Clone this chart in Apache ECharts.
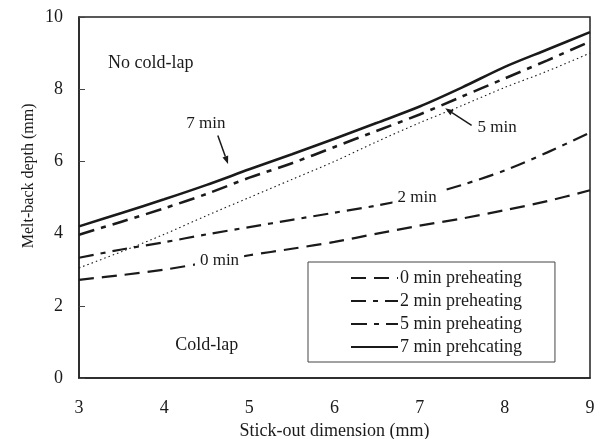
<!DOCTYPE html>
<html>
<head>
<meta charset="utf-8">
<script src="https://cdn.jsdelivr.net/npm/echarts@6/dist/echarts.min.js"></script>
<style>
  html, body { margin: 0; padding: 0; background: #fff; }
  #chart { width: 603px; height: 439px; }
</style>
</head>
<body>
<div id="chart"></div>
<script>
// Stick-out dimension (mm)
const stickOut = [3, 3.5, 4, 4.5, 5, 5.5, 6, 6.5, 7, 7.5, 8, 8.5, 9];

// Melt-back depth (mm) for each preheating time
const depth0min = [2.72, 2.85, 3.0, 3.2, 3.4, 3.58, 3.77, 4.0, 4.22, 4.42, 4.65, 4.9, 5.2];
const depth2min = [3.33, 3.56, 3.76, 3.98, 4.18, 4.38, 4.58, 4.78, 5.02, 5.35, 5.75, 6.25, 6.8];
const depth5min = [3.97, 4.33, 4.7, 5.1, 5.55, 5.95, 6.4, 6.85, 7.3, 7.8, 8.3, 8.8, 9.32];
const depthDotted = [3.05, 3.5, 3.98, 4.5, 5.0, 5.5, 6.0, 6.55, 7.07, 7.55, 8.05, 8.5, 9.0];
const depth7min = [4.2, 4.57, 4.95, 5.35, 5.78, 6.2, 6.63, 7.07, 7.52, 8.05, 8.62, 9.1, 9.58];

const legendNames = ['0 min preheating', '2 min preheating', '5 min preheating', '7 min prehcating'];
const yTitle = 'Melt-back depth (mm)';

// Annotation anchors in data coordinates [x, y]
const regionLabels = [
  { text: 'No cold-lap', at: [3.34, 8.72], align: 'left' },
  { text: 'Cold-lap', at: [4.5, 0.9], align: 'center' }
];
const curveLabels = [
  { text: '7 min', at: [4.49, 7.05], bg: false },
  { text: '5 min', at: [7.91, 6.94], bg: false },
  { text: '2 min', at: [6.97, 5.0], bg: true },
  { text: '0 min', at: [4.65, 3.26], bg: true }
];
const arrows = [
  { from: [4.63, 6.72], to: [4.75, 5.93] },
  { from: [7.61, 7.0], to: [7.30, 7.47] }
];

const FONT = 'Liberation Serif';
const INK = '#1a1a1a';

function pairs(ys) { return stickOut.map((x, i) => [x, ys[i]]); }

function lineSeries(name, ys, width, dash) {
  return {
    name: name,
    type: 'line',
    data: pairs(ys),
    smooth: 0.3,
    symbol: 'none',
    silent: true,
    z: 3,
    color: INK,
    itemStyle: { color: INK },
    lineStyle: { color: INK, width: width, type: dash, cap: 'butt' }
  };
}

const chart = echarts.init(document.getElementById('chart'), null, { renderer: 'canvas' });

chart.setOption({
  animation: false,
  backgroundColor: '#fff',
  textStyle: { fontFamily: FONT, color: INK },
  grid: {
    left: 79, right: 13, top: 17, bottom: 61,
    outerBoundsMode: 'none',
    containLabel: false,
    show: true, borderColor: '#222', borderWidth: 1.5
  },
  xAxis: {
    type: 'value', min: 3, max: 9, interval: 1,
    name: 'Stick-out dimension (mm)',
    nameLocation: 'middle', nameGap: 42,
    nameTextStyle: { fontFamily: FONT, fontSize: 18, color: INK },
    axisLine: { show: true, lineStyle: { color: '#222', width: 1.5 } },
    axisTick: { show: false },
    splitLine: { show: false },
    axisLabel: { fontFamily: FONT, fontSize: 18, color: INK, margin: 21 }
  },
  yAxis: {
    type: 'value', min: 0, max: 10, interval: 2,
    axisLine: { show: true, lineStyle: { color: '#222', width: 1.5 } },
    axisTick: { show: true, inside: true, length: 6, lineStyle: { color: '#444', width: 1 } },
    splitLine: { show: false },
    axisLabel: { fontFamily: FONT, fontSize: 18, color: INK, margin: 16 }
  },
  legend: {
    data: legendNames,
    orient: 'vertical',
    left: 308, top: 262,
    padding: [7, 33, 6, 42],
    itemGap: 5,
    itemWidth: 47,
    itemHeight: 18,
    borderColor: '#444',
    borderWidth: 1,
    backgroundColor: '#fff',
    selectedMode: false,
    itemStyle: { opacity: 0 },
    textStyle: { fontFamily: FONT, fontSize: 18, color: INK, padding: [0, 0, 0, -3] }
  },
  series: [
    lineSeries('0 min preheating', depth0min, 2.2, [15, 8]),
    lineSeries('2 min preheating', depth2min, 2.2, [15, 7, 5, 7]),
    lineSeries('5 min preheating', depth5min, 2.6, [16, 7, 5, 7]),
    lineSeries('dotted', depthDotted, 1.1, [1.5, 3]),
    lineSeries('7 min prehcating', depth7min, 2.6, 'solid')
  ]
});

// Place annotations from data coordinates
function px(p) { return chart.convertToPixel({ gridIndex: 0 }, p); }

const graphics = [];
const yMid = px([3, 5.6]);
graphics.push({
  type: 'text', x: 29, y: yMid[1], rotation: Math.PI / 2, z: 10,
  style: { text: yTitle, fontFamily: FONT, fontSize: 16, fill: INK,
           align: 'center', verticalAlign: 'middle' }
});
regionLabels.forEach(function (l) {
  const p = px(l.at);
  graphics.push({
    type: 'text', x: p[0], y: p[1], z: 10,
    style: { text: l.text, fontFamily: FONT, fontSize: 18, fill: INK,
             align: l.align, verticalAlign: 'middle' }
  });
});
curveLabels.forEach(function (l) {
  const p = px(l.at);
  const style = { text: l.text, fontFamily: FONT, fontSize: 17, fill: INK,
                  align: 'center', verticalAlign: 'middle' };
  if (l.bg) { style.backgroundColor = '#fff'; style.padding = [2, 5]; }
  graphics.push({ type: 'text', x: p[0], y: p[1], z: 10, style: style });
});
arrows.forEach(function (a) {
  const p0 = px(a.from), p1 = px(a.to);
  const dx = p1[0] - p0[0], dy = p1[1] - p0[1];
  const len = Math.sqrt(dx * dx + dy * dy);
  const ux = dx / len, uy = dy / len;
  const head = 8, half = 3;
  const bx = p1[0] - ux * head, by = p1[1] - uy * head;
  graphics.push({
    type: 'line', z: 10,
    shape: { x1: p0[0], y1: p0[1], x2: bx, y2: by },
    style: { stroke: INK, lineWidth: 1.5 }
  });
  graphics.push({
    type: 'polygon', z: 10,
    shape: { points: [[p1[0], p1[1]], [bx - uy * half, by + ux * half], [bx + uy * half, by - ux * half]] },
    style: { fill: INK }
  });
});
chart.setOption({ graphic: graphics });
</script>
</body>
</html>
